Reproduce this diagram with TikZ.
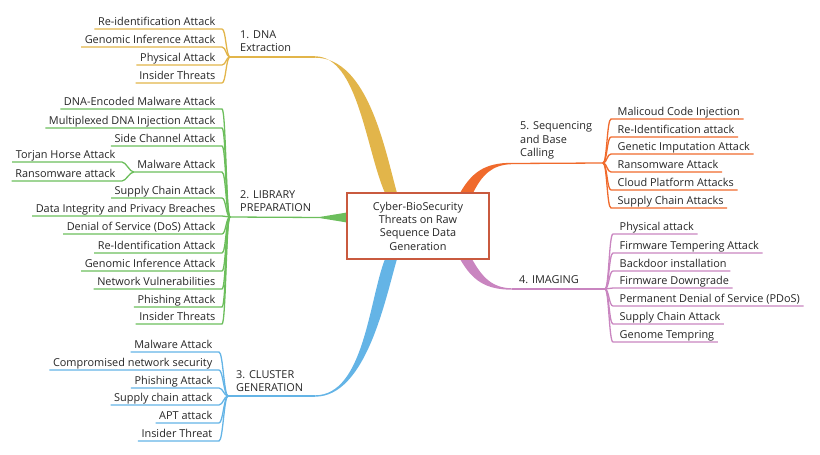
\documentclass[tikz,border=0pt]{standalone}
\usepackage{fontspec}
\setmainfont{Open Sans}
\definecolor{cy}{HTML}{E2B54A}
\definecolor{cg}{HTML}{6CBE5C}
\definecolor{cb}{HTML}{64B4E6}
\definecolor{co}{HTML}{F06A2C}
\definecolor{cp}{HTML}{C985C0}
\definecolor{cbox}{HTML}{C95A3F}
\definecolor{ctext}{HTML}{262626}
\tikzset{
  leaf/.style={font=\fontsize{10.9}{12}\selectfont, text=ctext, inner xsep=1.5pt, inner ysep=0pt},
  thinbr/.style={line width=1.3pt},
  blabel/.style={font=\fontsize{10.9}{13.5}\selectfont, text=ctext, align=left, inner sep=0pt, text depth=0pt, anchor=south west},
  centerbox/.style={draw=cbox, line width=1.3pt, fill=white, minimum width=142pt, minimum height=66pt, align=center, text=ctext, font=\fontsize{10.9}{13.3}\selectfont}
}
% left leaf: name, x of text right, y of underline, text, fork, colour
\newcommand\lleaf[6]{%
  \node[leaf, anchor=base east] (#1) at (#2,#3-3.5) {#4};
  \draw[thinbr,draw=#6] (#5) .. controls ([xshift=-4pt]#5) and ([shift={(9,3.5)}]#1.base east) .. ([shift={(5,3.5)}]#1.base east) -- ([shift={(-2,3.5)}]#1.base west);
}
% right leaf: name, x of text left, y of underline, text, fork, colour
\newcommand\rleaf[6]{%
  \node[leaf, anchor=base west] (#1) at (#2,#3-3.5) {#4};
  \draw[thinbr,draw=#6] (#5) .. controls ([xshift=4pt]#5) and ([shift={(-9,3.5)}]#1.base west) .. ([shift={(-5,3.5)}]#1.base west) -- ([shift={(2,3.5)}]#1.base east);
}
\begin{document}
\begin{tikzpicture}[x=1pt,y=-1pt]
\useasboundingbox (0,0) rectangle (820,455);
% forks
\coordinate (f1) at (230,57);
\coordinate (f2) at (230,217);
\coordinate (f3) at (228,396);
\coordinate (f5) at (603,163);
\coordinate (f4) at (605,289);
% band ends
\coordinate (e1) at (315,57);
\coordinate (e2) at (320,217.5);
\coordinate (e3) at (315,396);
\coordinate (e5) at (512,163.5);
\coordinate (e4) at (512,289);
% main branches
\fill[cy] (315,56.3) .. controls (358,56.3) and (366,150) .. (385,193) -- (397,193) .. controls (385,150) and (368,57.7) .. (315,57.7) -- cycle;
\draw[thinbr,cy] (f1) -- (e1);
\fill[cg] (320,216.9) -- (347,212.5) -- (347,222.5) -- (320,218.1) -- cycle;
\draw[thinbr,cg] (f2) -- (e2);
\fill[cb] (385,259) .. controls (369,300) and (364,395.3) .. (315,395.3) -- (315,396.7) .. controls (366,396.7) and (385,300) .. (397,259) -- cycle;
\draw[thinbr,cb] (f3) -- (e3);
\fill[co] (460,193) .. controls (472,172) and (485,162.8) .. (512,162.8) -- (512,164.2) .. controls (492,164.5) and (482,175) .. (473,193) -- cycle;
\draw[thinbr,co] (e5) -- (f5);
\fill[cp] (460,259) .. controls (472,280) and (485,289.7) .. (512,289.7) -- (512,288.3) .. controls (492,288) and (482,277) .. (472,259) -- cycle;
\draw[thinbr,cp] (e4) -- (f4);
% centre
\node[centerbox] (c) at (418,226) {Cyber-BioSecurity\\Threats on Raw\\Sequence Data\\Generation};
% branch labels
\node[blabel] (l1) at (240,52) {1. DNA\\Extraction};
\node[blabel] (l2) at (240,212) {2. LIBRARY\\PREPARATION};
\node[blabel] (l3) at (236,392) {3. CLUSTER\\GENERATION};
\node[blabel] (l5) at (520,157) {5. Sequencing\\and Base\\Calling};
\node[blabel] (l4) at (519,284) {4. IMAGING};
% branch 1
\lleaf{a1}{217}{29}{Re-identification Attack}{f1}{cy}
\lleaf{a2}{217}{47}{Genomic Inference Attack}{f1}{cy}
\lleaf{a3}{217}{65}{Physical Attack}{f1}{cy}
\lleaf{a4}{217}{83}{Insider Threats}{f1}{cy}
% branch 2
\lleaf{b1}{217}{109}{DNA-Encoded Malware Attack}{f2}{cg}
\lleaf{b2}{217}{128}{Multiplexed DNA Injection Attack}{f2}{cg}
\lleaf{b3}{217}{146}{Side Channel Attack}{f2}{cg}
\lleaf{b4}{217}{172}{Malware Attack}{f2}{cg}
\lleaf{b5}{217}{198}{Supply Chain Attack}{f2}{cg}
\lleaf{b6}{217}{216}{Data Integrity and Privacy Breaches}{f2}{cg}
\lleaf{b7}{217}{234}{Denial of Service (DoS) Attack}{f2}{cg}
\lleaf{b8}{217}{253}{Re-Identification Attack}{f2}{cg}
\lleaf{b9}{217}{271}{Genomic Inference Attack}{f2}{cg}
\lleaf{b10}{217}{289}{Network Vulnerabilities}{f2}{cg}
\lleaf{b11}{217}{307}{Phishing Attack}{f2}{cg}
\lleaf{b12}{217}{324}{Insider Threats}{f2}{cg}
\coordinate (mf) at ([shift={(-2,3.5)}]b4.base west);
\lleaf{b4a}{117}{162}{Torjan Horse Attack}{mf}{cg}
\lleaf{b4b}{117}{181}{Ransomware attack}{mf}{cg}
% branch 3
\lleaf{c1}{214}{352}{Malware Attack}{f3}{cb}
\lleaf{c2}{214}{370}{Compromised network security}{f3}{cb}
\lleaf{c3}{214}{388}{Phishing Attack}{f3}{cb}
\lleaf{c4}{214}{405}{Supply chain attack}{f3}{cb}
\lleaf{c5}{214}{423}{APT attack}{f3}{cb}
\lleaf{c6}{214}{441}{Insider Threat}{f3}{cb}
% branch 5
\rleaf{e1}{616}{119}{Malicoud Code Injection}{f5}{co}
\rleaf{e2}{616}{137}{Re-Identification attack}{f5}{co}
\rleaf{e3}{616}{154}{Genetic Imputation Attack}{f5}{co}
\rleaf{e4}{616}{172}{Ransomware Attack}{f5}{co}
\rleaf{e5}{616}{190}{Cloud Platform Attacks}{f5}{co}
\rleaf{e6}{616}{208}{Supply Chain Attacks}{f5}{co}
% branch 4
\rleaf{d1}{618}{234}{Physical attack}{f4}{cp}
\rleaf{d2}{618}{253}{Firmware Tempering Attack}{f4}{cp}
\rleaf{d3}{618}{271}{Backdoor installation}{f4}{cp}
\rleaf{d4}{618}{288}{Firmware Downgrade}{f4}{cp}
\rleaf{d5}{618}{306}{Permanent Denial of Service (PDoS)}{f4}{cp}
\rleaf{d6}{618}{324}{Supply Chain Attack}{f4}{cp}
\rleaf{d7}{618}{342}{Genome Tempring}{f4}{cp}
\end{tikzpicture}
\end{document}
